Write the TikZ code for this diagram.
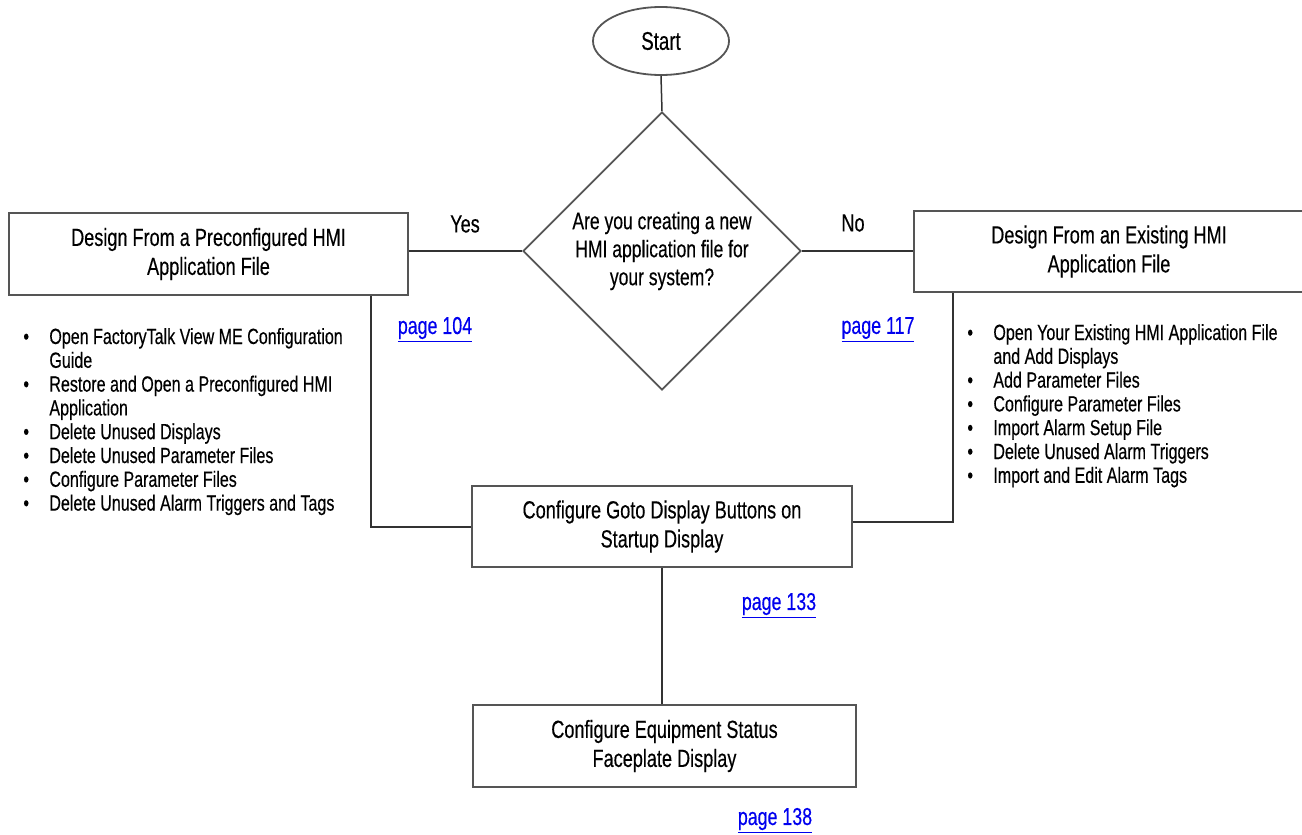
\documentclass[tikz,border=0pt]{standalone}
\usepackage{fontspec}
\setmainfont[FakeStretch=0.73,FakeBold=0.35]{Liberation Sans}
\usetikzlibrary{shapes.geometric}
\definecolor{linkblue}{RGB}{0,0,238}
\definecolor{framegray}{RGB}{85,85,85}
\definecolor{wiregray}{RGB}{50,50,50}
\begin{document}
\begin{tikzpicture}[x=0.5pt,y=-0.5pt,
  boxtext/.style={font=\fontsize{12.4}{14.5}\selectfont},
  procbox/.style={draw=framegray, line width=1pt, align=center, boxtext, inner sep=0pt},
  wire/.style={draw=wiregray, line width=0.75pt},
  pagelink/.style={text=linkblue, font=\fontsize{12.2}{14}\selectfont, inner sep=0pt},
  answer/.style={boxtext, inner sep=0pt},
  bulletlist/.style={anchor=base west, inner sep=0pt, align=left}
]
\useasboundingbox (0,0) rectangle (1302,835);

% terminal and decision
\node[ellipse, draw=framegray, line width=0.9pt, minimum width=68pt, minimum height=34pt,
      inner sep=0pt, font=\fontsize{12.8}{14}\selectfont] (start) at (661,41) {Start};
\node[diamond, draw=framegray, line width=0.9pt, aspect=1, minimum size=139pt, inner sep=0pt,
      align=center, font=\fontsize{12}{14}\selectfont] (dec) at (662,251)
      {Are you creating a new\\HMI application file for\\your system?};

% process boxes
\node[procbox, minimum width=199.5pt, minimum height=41pt] (prebox) at (208.5,254)
      {Design From a Preconfigured HMI\\Application File};
\node[procbox, minimum width=195pt, minimum height=40.5pt] (exbox) at (1109,251.5)
      {Design From an Existing HMI\\Application File};
\node[procbox, minimum width=190pt, minimum height=40.5pt] (goto) at (662,526.5)
      {Configure Goto Display Buttons on\\Startup Display};
\node[procbox, minimum width=191.5pt, minimum height=41pt] (equip) at (664.5,746)
      {Configure Equipment Status\\Faceplate Display};

% branch labels
\node[answer] (yes) at (465,224) {Yes};
\node[answer] (no) at (853,223) {No};

% page references
\node[pagelink] (p104) at (435,330) {\underline{page 104}};
\node[pagelink] (p117) at (878,330) {\underline{page 117}};
\node[pagelink] (p133) at (779,606) {\underline{page 133}};
\node[pagelink] (p138) at (775,821) {\underline{page 138}};

% task lists
\node[bulletlist] (prelist) at (23,344) {\fontsize{11}{11.9}\selectfont
  \begin{tabular}[t]{@{}p{13pt}@{}l@{}}
  \textbullet & Open FactoryTalk View ME Configuration\\
              & Guide\\
  \textbullet & Restore and Open a Preconfigured HMI\\
              & Application\\
  \textbullet & Delete Unused Displays\\
  \textbullet & Delete Unused Parameter Files\\
  \textbullet & Configure Parameter Files\\
  \textbullet & Delete Unused Alarm Triggers and Tags
  \end{tabular}};
\node[bulletlist] (exlist) at (967,340) {\fontsize{11}{11.9}\selectfont
  \begin{tabular}[t]{@{}p{13pt}@{}l@{}}
  \textbullet & Open Your Existing HMI Application File\\
              & and Add Displays\\
  \textbullet & Add Parameter Files\\
  \textbullet & Configure Parameter Files\\
  \textbullet & Import Alarm Setup File\\
  \textbullet & Delete Unused Alarm Triggers\\
  \textbullet & Import and Edit Alarm Tags
  \end{tabular}};

% connectors
\coordinate (lc) at (371,527);
\coordinate (rc) at (953,522);
\draw[wire] (start.south) -- (dec.north);
\draw[wire] (dec.west) -- (dec.west -| prebox.east);
\draw[wire] (dec.east) -- (dec.east -| exbox.west);
\draw[wire] (prebox.south -| lc) -- (lc) -- (lc -| goto.west);
\draw[wire] (exbox.south -| rc) -- (rc) -- (rc -| goto.east);
\draw[wire] (goto.south) -- (goto.south |- equip.north);
\end{tikzpicture}
\end{document}
